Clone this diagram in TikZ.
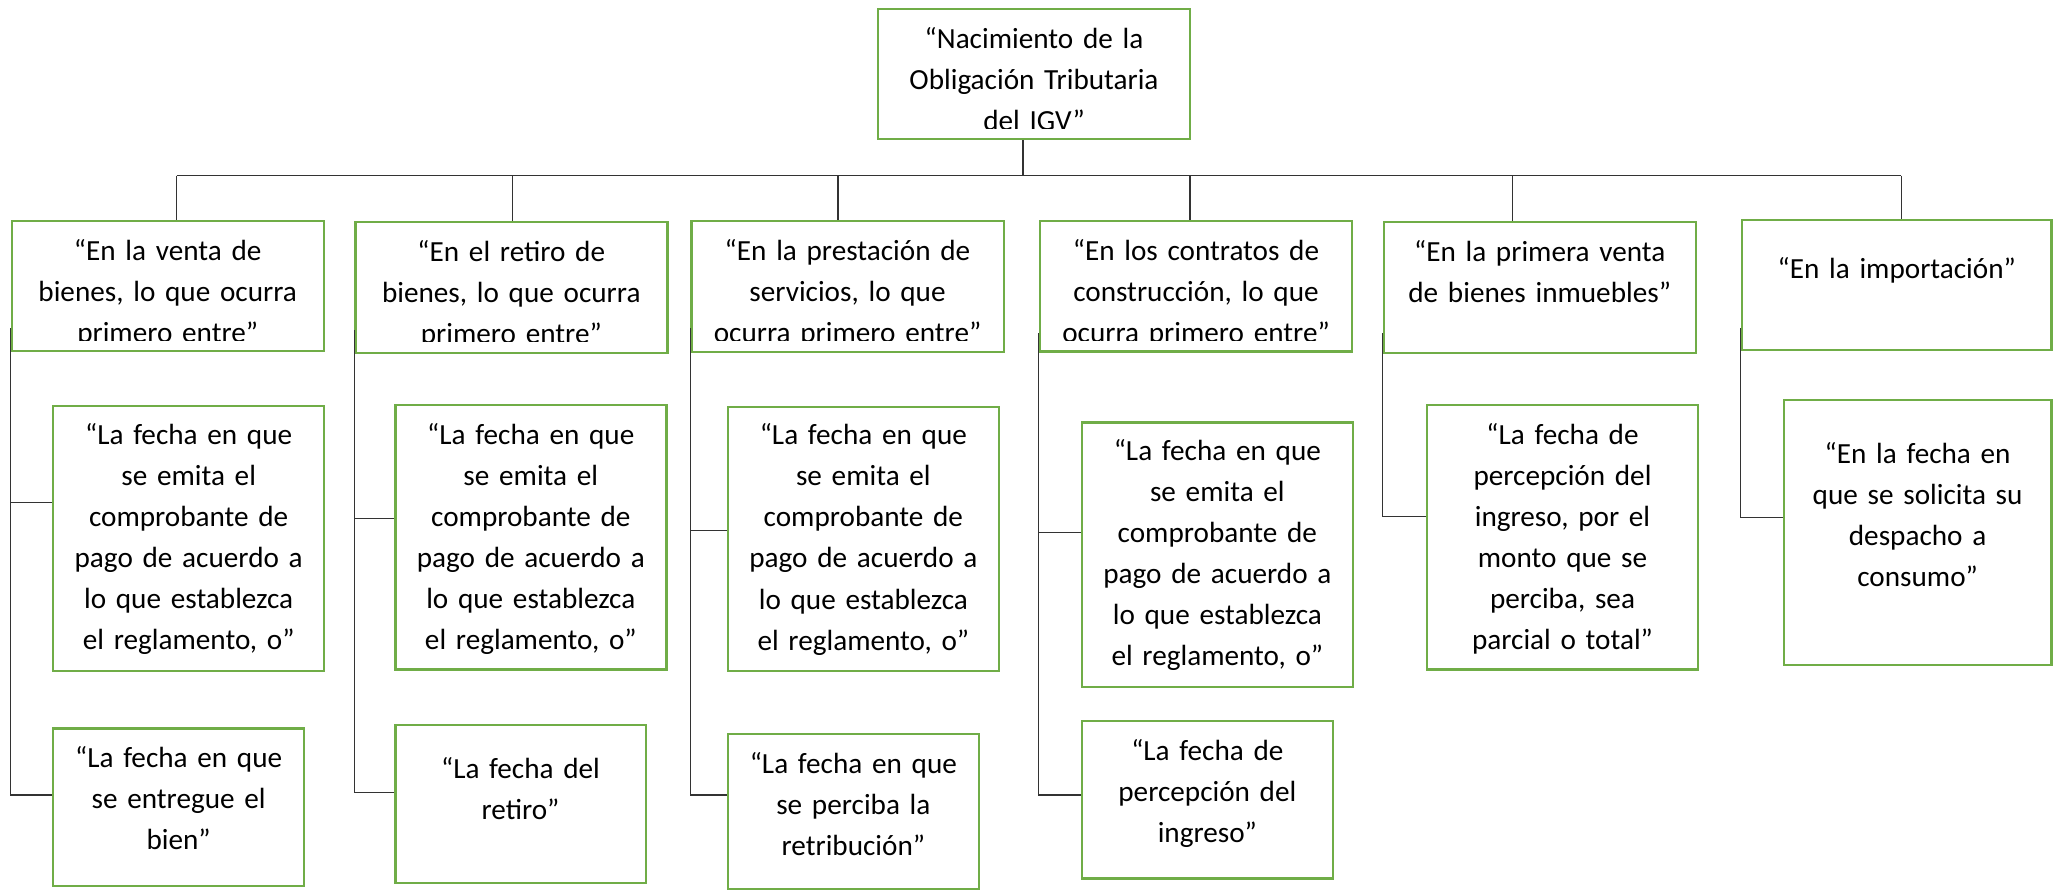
\documentclass[tikz,border=0pt]{standalone}
\usepackage{fontspec}
\setmainfont{Carlito}
\usetikzlibrary{fit}
\definecolor{boxgreen}{RGB}{112,173,71}
\tikzset{
	org chart/.cd,
	frame/.style = {
		draw = boxgreen,
		line width = 0.9pt,
		inner sep = 0pt
	},
	link/.style = {
		draw = black!80,
		line width = 0.45pt
	},
}

\begin{document}
\begin{tikzpicture}[
		x = 0.3767pt, y = -0.3767pt,
		box text/.style = {
			anchor = base,
			text width = 130pt,
			align = center,
			inner sep = 0pt,
			font = \fontsize{11}{15.5}\selectfont
		}]
		\useasboundingbox (0, 0) rectangle (2053, 891);
		% frames
		\node[org chart/frame, fit = {(878, 9) (1190, 139)}] (root) {};
		\node[org chart/frame, fit = {(11.7, 221) (323.7, 351)}] (b1) {};
		\node[org chart/frame, fit = {(355.3, 222.3) (667.3, 352.7)}] (b2) {};
		\node[org chart/frame, fit = {(691.3, 221) (1003.7, 352)}] (b3) {};
		\node[org chart/frame, fit = {(1040, 220.7) (1352, 351.3)}] (b4) {};
		\node[org chart/frame, fit = {(1383.7, 222.3) (1695.7, 352.7)}] (b5) {};
		\node[org chart/frame, fit = {(1742, 220) (2051.5, 350)}] (b6) {};
		\node[org chart/frame, fit = {(53.3, 405.7) (324, 670.7)}] (c1a) {};
		\node[org chart/frame, fit = {(53.3, 728.3) (304, 885.7)}] (c1b) {};
		\node[org chart/frame, fit = {(395.3, 405) (666.3, 669.5)}] (c2a) {};
		\node[org chart/frame, fit = {(395.3, 725) (645.7, 882.7)}] (c2b) {};
		\node[org chart/frame, fit = {(728, 406.7) (998.7, 671)}] (c3a) {};
		\node[org chart/frame, fit = {(728, 734) (978.7, 889)}] (c3b) {};
		\node[org chart/frame, fit = {(1082, 422.3) (1352.7, 686.7)}] (c4a) {};
		\node[org chart/frame, fit = {(1082, 720.7) (1332.7, 878.3)}] (c4b) {};
		\node[org chart/frame, fit = {(1427, 405) (1698, 669.5)}] (c5a) {};
		\node[org chart/frame, fit = {(1783.7, 400) (2051.5, 665)}] (c6a) {};
		% texts cut off at the bottom
		\begin{scope}
			\clip (root.north west) rectangle (root.south east |- 0, 128.3);
			\node[box text] (roott) at (root.north |- 0, 48) {“Nacimiento de la\\Obligación Tributaria\\del IGV”};
		\end{scope}
		\begin{scope}
			\clip (b1.north west) rectangle (b1.south east |- 0, 340);
			\node[box text] (b1t) at (b1.north |- 0, 260) {“En la venta de\\bienes, lo que ocurra\\primero entre”};
		\end{scope}
		\begin{scope}
			\clip (b2.north west) rectangle (b2.south east |- 0, 341.7);
			\node[box text] (b2t) at (b2.north |- 0, 261) {“En el retiro de\\bienes, lo que ocurra\\primero entre”};
		\end{scope}
		\begin{scope}
			\clip (b3.north west) rectangle (b3.south east |- 0, 340.7);
			\node[box text] (b3t) at (b3.north |- 0, 260) {“En la prestación de\\servicios, lo que\\ocurra primero entre”};
		\end{scope}
		\begin{scope}
			\clip (b4.north west) rectangle (b4.south east |- 0, 340);
			\node[box text] (b4t) at (b4.north |- 0, 260) {“En los contratos de\\construcción, lo que\\ocurra primero entre”};
		\end{scope}
		% other texts
		\node[box text] (b5t) at (b5.north |- 0, 261) {“En la primera venta\\de bienes inmuebles”};
		\node[box text] (b6t) at (b6.north |- 0, 278) {“En la importación”};
		\node[box text] (c1at) at (c1a.north |- 0, 444) {“La fecha en que\\se emita el\\comprobante de\\pago de acuerdo a\\lo que establezca\\el reglamento, o”};
		\node[box text] (c1bt) at (c1b.north |- 0, 767) {“La fecha en que\\se entregue el\\bien”};
		\node[box text] (c2at) at (c2a.north |- 0, 444) {“La fecha en que\\se emita el\\comprobante de\\pago de acuerdo a\\lo que establezca\\el reglamento, o”};
		\node[box text] (c2bt) at (c2b.north |- 0, 778) {“La fecha del\\retiro”};
		\node[box text] (c3at) at (c3a.north |- 0, 444.5) {“La fecha en que\\se emita el\\comprobante de\\pago de acuerdo a\\lo que establezca\\el reglamento, o”};
		\node[box text] (c3bt) at (c3b.north |- 0, 773) {“La fecha en que\\se perciba la\\retribución”};
		\node[box text] (c4at) at (c4a.north |- 0, 460) {“La fecha en que\\se emita el\\comprobante de\\pago de acuerdo a\\lo que establezca\\el reglamento, o”};
		\node[box text] (c4bt) at (c4b.north |- 0, 760) {“La fecha de\\percepción del\\ingreso”};
		\node[box text] (c5at) at (c5a.north |- 0, 444) {“La fecha de\\percepción del\\ingreso, por el\\monto que se\\perciba, sea\\parcial o total”};
		\node[box text] (c6at) at (c6a.north |- 0, 463) {“En la fecha en\\que se solicita su\\despacho a\\consumo”};
		% bus under the root
		\coordinate (d0) at (1023, 175.7);
		\foreach \k/\x in {1/176.7, 2/512.3, 3/838, 4/1190, 5/1512.3, 6/1901.3}
			\coordinate (d\k) at (\x, 175.7);
		\draw[org chart/link] (d1) -- (d6);
		\draw[org chart/link] (root.south -| d0) -- (d0);
		\foreach \k in {1, ..., 6}
			\draw[org chart/link] (d\k) -- (d\k |- b\k.north);
		% spines to the dates
		\foreach \k/\top/\ya/\yb in {1/328/502.7/795, 2/330/518.3/792.7, 3/328/530.7/795, 4/333/532.3/795} {
			\coordinate (j\k) at (b\k.south west |- 0, \top);
			\draw[org chart/link] (j\k) |- (c\k b.west |- 0, \yb);
			\draw[org chart/link] (j\k |- 0, \ya) -- (c\k a.west |- 0, \ya);
		}
		\foreach \k/\top/\ya in {5/333/516.7, 6/328/517.7} {
			\coordinate (j\k) at (b\k.south west |- 0, \top);
			\draw[org chart/link] (j\k) |- (c\k a.west |- 0, \ya);
		}
	\end{tikzpicture}
\end{document}
